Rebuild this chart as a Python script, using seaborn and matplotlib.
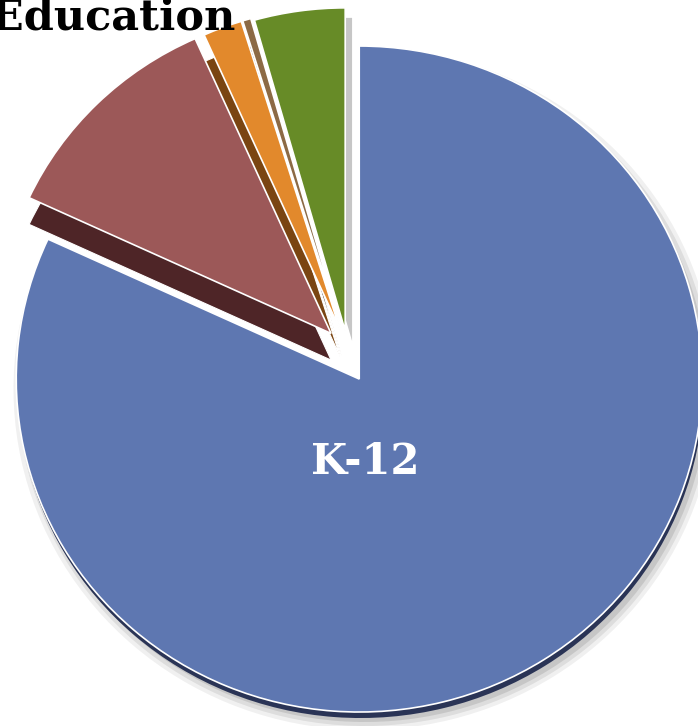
import matplotlib
matplotlib.use("Agg")
import matplotlib.pyplot as plt
import seaborn as sns

sns.set_theme(style="white")
plt.rcParams['font.family'] = ['DejaVu Serif']

# slice data, clockwise from 12 o'clock
sectors = ['K-12', 'Education', 'Other A', 'Other B', 'Other C']
shares = [81.9, 11.4, 1.9, 0.4, 4.4]
colors = ['#5E77B1', '#9C5858', '#E2892C', '#8C6A45', '#678B27']
side_colors = ['#2A3456', '#4E2527', '#7A4512', '#4A3520', '#3B5214']
explode = [0.05, 0.07, 0.065, 0.065, 0.058]

fig = plt.figure(figsize=(6.98, 7.26), dpi=100)
ax = fig.add_axes([0, 0, 1, 1])


def layer(cols, keep, **kw):
    wp = kw.pop('wedgeprops', dict(linewidth=0))
    wedges, _ = ax.pie(shares, explode=explode, startangle=90, counterclock=False,
                       colors=cols, wedgeprops=wp, **kw)
    for i, w in enumerate(wedges):
        if i not in keep:
            w.set_visible(False)


small = [1, 2, 3, 4]
raised = (-0.006, 0.045)

# soft drop shadow
for k, a in enumerate([0.06, 0.08, 0.10]):
    layer(['#000000'] * 5, [0], radius=1.0 + 0.012 * (2 - k),
          center=(0.016, -0.03), wedgeprops=dict(linewidth=0, alpha=a))
    layer(['#000000'] * 5, [4], radius=0.97, center=(raised[0] + 0.02, raised[1] - 0.03),
          wedgeprops=dict(linewidth=0, alpha=a))

# blue: side then top
layer(side_colors, [0], center=(0.004, -0.018))
layer(colors, [0], wedgeprops=dict(edgecolor='white', linewidth=1.2))

# side faces of the raised slices sit on top of blue
layer(side_colors, [1, 2, 3], radius=0.97, center=(raised[0], raised[1] - 0.08),
      wedgeprops=dict(edgecolor='white', linewidth=0.8))

# remaining top faces
layer(colors, small, radius=0.97, center=raised,
      wedgeprops=dict(edgecolor='white', linewidth=1.2))

ax.text(0.044, -0.291, 'K-12', color='white', fontsize=30, fontweight='bold',
        ha='center', va='center')
ax.text(-0.335, 1.009, 'Education', color='black', fontsize=31, fontweight='bold',
        ha='right', va='baseline')

ax.set_aspect('auto')
ax.set_xlim(-350 / 343, (698 - 350) / 343)
ax.set_ylim((365 - 726) / 333, 365 / 333)
ax.axis('off')

fig.savefig('out.png', dpi=100)
